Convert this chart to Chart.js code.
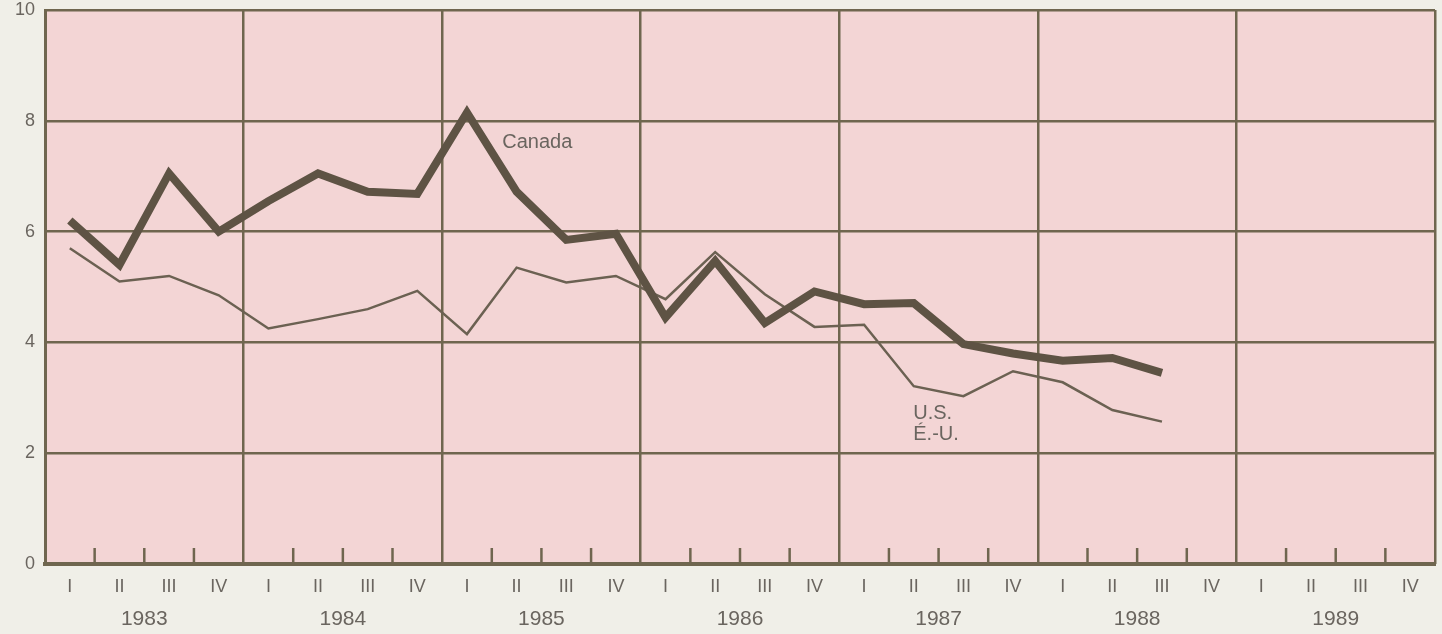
<!DOCTYPE html>
<html>
<head>
<meta charset="utf-8">
<script src="https://cdn.jsdelivr.net/npm/chart.js@4/dist/chart.umd.min.js"></script>
<style>
  html, body { margin: 0; padding: 0; background: #f0efe8; }
  #wrap { width: 1442px; height: 634px; position: relative; }
</style>
</head>
<body>
<div id="wrap"><canvas id="myChart"></canvas></div>
<script>
// quarters 1983 I .. 1989 IV
var quarters = [];
var years = ['1983', '1984', '1985', '1986', '1987', '1988', '1989'];
var roman = ['I', 'II', 'III', 'IV'];
for (var i = 0; i < years.length; i++) {
  for (var q = 0; q < 4; q++) quarters.push(roman[q]);
}
var yTicks = [0, 2, 4, 6, 8, 10];

// values, 1983 I .. 1988 III
var canada = [6.2, 5.4, 7.05, 6.0, 6.55, 7.05, 6.72, 6.68, 8.15, 6.72, 5.85, 5.96,
              4.45, 5.47, 4.35, 4.92, 4.69, 4.71, 3.97, 3.8, 3.67, 3.72, 3.45];
var us = [5.7, 5.1, 5.2, 4.85, 4.25, 4.42, 4.6, 4.93, 4.15, 5.35, 5.08, 5.2,
          4.78, 5.63, 4.87, 4.28, 4.32, 3.21, 3.03, 3.48, 3.28, 2.78, 2.57];

// text labels: [text, x (category value), y value]
var notes = [['Canada', 8.71, 7.6], ['U.S.', 16.99, 2.72], ['É.-U.', 16.99, 2.34]];

var lineCol = '#5e5344';
var gridCol = '#6f664f';
var textCol = '#6a655f';
var font = '"Liberation Sans", Arial, sans-serif';

var pinkBg = {
  id: 'pinkBg',
  beforeDraw: function (chart) {
    var a = chart.chartArea, c = chart.ctx;
    c.save();
    c.fillStyle = '#f3d5d5';
    c.fillRect(a.left, a.top, a.right - a.left, a.bottom - a.top);
    c.restore();
  }
};

// short inner ticks at quarter boundaries + text notes
var extras = {
  id: 'extras',
  afterDraw: function (chart) {
    var x = chart.scales.x, y = chart.scales.y, c = chart.ctx;
    var bottom = chart.chartArea.bottom;
    c.save();
    c.strokeStyle = gridCol;
    c.lineWidth = 2.5;
    for (var k = 1; k < quarters.length; k++) {
      if (k % 4 === 0) continue;
      var px = (x.getPixelForValue(k - 1) + x.getPixelForValue(k)) / 2;
      c.beginPath();
      c.moveTo(px, bottom);
      c.lineTo(px, bottom - 16);
      c.stroke();
    }
    c.fillStyle = textCol;
    c.font = '20px ' + font;
    c.textBaseline = 'middle';
    c.textAlign = 'left';
    notes.forEach(function (n) {
      c.fillText(n[0], x.getPixelForValue(n[1]), y.getPixelForValue(n[2]));
    });
    c.restore();
  }
};

var ctx = document.getElementById('myChart');
var myChart = new Chart(ctx, {
  type: 'line',
  data: {
    labels: quarters,
    datasets: [{
      label: 'Canada',
      data: canada,
      borderColor: lineCol,
      borderWidth: 8,
      borderJoinStyle: 'miter',
      pointRadius: 0,
      tension: 0
    }, {
      label: 'U.S. / É.-U.',
      data: us,
      borderColor: '#6b6152',
      borderWidth: 2.5,
      pointRadius: 0,
      tension: 0
    }]
  },
  options: {
    responsive: true,
    maintainAspectRatio: false,
    animation: false,
    layout: {
      padding: { top: 10, right: 7, left: 0, bottom: 0 }
    },
    plugins: {
      legend: { display: false },
      tooltip: { enabled: false }
    },
    scales: {
      y: {
        min: 0,
        max: 10,
        afterBuildTicks: function (s) { s.ticks = yTicks.map(function (v) { return { value: v }; }); },
        afterFit: function (s) { s.width = 45; s.paddingTop = 0; s.paddingBottom = 0; },
        grid: { color: gridCol, lineWidth: 2.5, drawTicks: false },
        border: { display: true, color: gridCol, width: 3 },
        ticks: { color: textCol, padding: 10, font: { size: 18, family: font } }
      },
      x: {
        type: 'category',
        offset: true,
        weight: 0,
        afterFit: function (s) { s.height = 38; },
        grid: { display: false, drawTicks: false },
        border: { display: true, color: gridCol, width: 4 },
        ticks: { color: textCol, padding: 12, autoSkip: false, maxRotation: 0, font: { size: 18, family: font } }
      },
      x2: {
        type: 'category',
        labels: years,
        position: 'bottom',
        offset: true,
        weight: 1,
        afterFit: function (s) { s.height = 32; },
        grid: { offset: true, color: gridCol, lineWidth: 2.5, drawTicks: false },
        border: { display: false },
        ticks: { color: textCol, padding: 5, autoSkip: false, maxRotation: 0, font: { size: 21, family: font } }
      }
    }
  },
  plugins: [pinkBg, extras]
});
</script>
</body>
</html>
